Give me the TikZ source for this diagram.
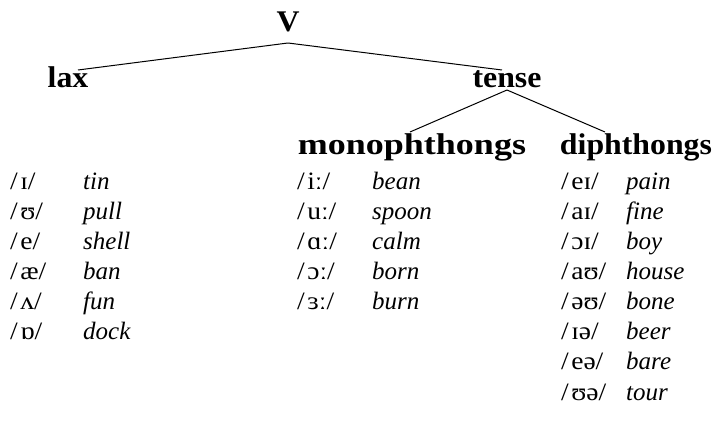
\documentclass[tikz,border=0pt]{standalone}
\usepackage{fontspec}
\setmainfont{Liberation Serif}
\newfontfamily\headfont[FakeStretch=1.06]{Liberation Serif Bold}
\newfontfamily\wideheadfont[FakeStretch=1.2]{Liberation Serif Bold}
\newfontfamily\ipafont[FakeStretch=1.1]{Liberation Serif}
\usetikzlibrary{calc}
\newcommand\phon[1]{/\kern2.5pt#1/}
\tikzset{
  head/.style={anchor=base, inner sep=0pt, font=\headfont\fontsize{30}{36}\selectfont},
  widehead/.style={head, font=\wideheadfont\fontsize{30}{36}\selectfont},
  ipa/.style={anchor=base west, inner sep=0pt, font=\ipafont\fontsize{25}{30}\selectfont},
  word/.style={anchor=base west, inner sep=0pt, font=\itshape\fontsize{25}{30}\selectfont},
  branch/.style={line width=1pt}
}
\begin{document}
\begin{tikzpicture}[x=1pt,y=-1pt]
\useasboundingbox (0,0) rectangle (715,430);

% tree labels
\node[head] (V) at (288,32) {V};
\node[head] (lax) at (68,88) {lax};
\node[head] (tense) at (507,88) {tense};
\node[widehead] (mono) at (412,155) {monophthongs};
\node[head] (diph) at (636,155) {diphthongs};

% branches
\draw[branch] ($(V.base)+(0,11)$) -- ($(lax.base)+(10,-18)$);
\draw[branch] ($(V.base)+(0,11)$) -- ($(tense.base)+(-5,-18)$);
\draw[branch] ($(tense.base)+(0,2)$) -- ($(mono.base)+(-2,-23)$);
\draw[branch] ($(tense.base)+(0,2)$) -- ($(diph.base)+(-31,-23)$);

% lax vowels
\foreach \v/\w [count=\i from 0] in {ɪ/tin, ʊ/pull, e/shell, æ/ban, ʌ/fun, ɒ/dock}{
  \node[ipa] (laxv\i) at (10,190+30*\i) {\phon{\v}};
  \node[word] (laxw\i) at (83,190+30*\i) {\w};
}

% tense monophthongs
\foreach \v/\w [count=\i from 0] in {iː/bean, uː/spoon, ɑː/calm, ɔː/born, ɜː/burn}{
  \node[ipa] (monov\i) at (297,190+30*\i) {\phon{\v}};
  \node[word] (monow\i) at (372,190+30*\i) {\w};
}

% tense diphthongs
\foreach \v/\w [count=\i from 0] in {eɪ/pain, aɪ/fine, ɔɪ/boy, aʊ/house, əʊ/bone, ɪə/beer, eə/bare, ʊə/tour}{
  \node[ipa] (diphv\i) at (561,190+30*\i) {\phon{\v}};
  \node[word] (diphw\i) at (626,190+30*\i) {\w};
}
\end{tikzpicture}
\end{document}
